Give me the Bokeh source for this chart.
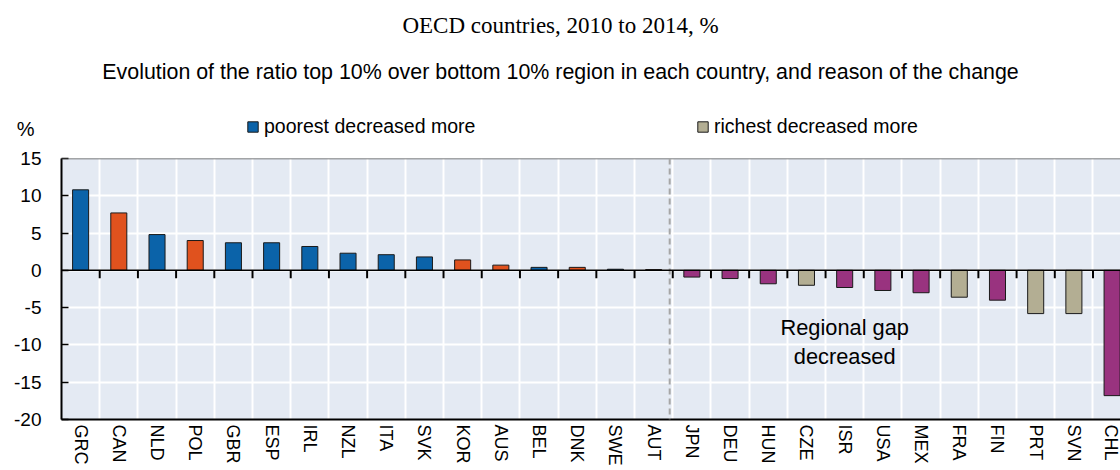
from bokeh.plotting import figure
from bokeh.layouts import column
from bokeh.models import (ColumnDataSource, Range1d, FixedTicker, Label, Span,
                          Legend, LegendItem, LinearAxis)
from bokeh.embed import file_html
from bokeh.resources import INLINE

# ---- data ----
countries = ["GRC", "CAN", "NLD", "POL", "GBR", "ESP", "IRL", "NZL", "ITA", "SVK",
             "KOR", "AUS", "BEL", "DNK", "SWE", "AUT", "JPN", "DEU", "HUN", "CZE",
             "ISR", "USA", "MEX", "FRA", "FIN", "PRT", "SVN", "CHL"]
values = [10.8, 7.7, 4.8, 4.0, 3.7, 3.7, 3.2, 2.3, 2.1, 1.8,
          1.4, 0.7, 0.4, 0.4, 0.15, 0.1, -0.9, -1.1, -1.8, -2.0,
          -2.3, -2.7, -3.0, -3.6, -4.0, -5.8, -5.8, -16.8]
reasons = ["poorest decreased more", "richest increased more", "poorest decreased more",
           "richest increased more", "poorest decreased more", "poorest decreased more",
           "poorest decreased more", "poorest decreased more", "poorest decreased more",
           "poorest decreased more", "richest increased more", "richest increased more",
           "poorest decreased more", "richest increased more", "poorest decreased more",
           "richest increased more", "poorest increased more", "poorest increased more",
           "poorest increased more", "richest decreased more", "poorest increased more",
           "poorest increased more", "poorest increased more", "richest decreased more",
           "poorest increased more", "richest decreased more", "richest decreased more",
           "poorest increased more"]
reason_colors = {
    "poorest decreased more": "#0B63A9",
    "richest increased more": "#E0521E",
    "richest decreased more": "#B3AE93",
    "poorest increased more": "#99337F",
}
legend_reasons = ["poorest decreased more", "richest decreased more"]
y_ticks = [-20, -15, -10, -5, 0, 5, 10, 15]
y_tick_labels = ["-20", "-15", "-10", "-5", "0", "5", "10", "15"]
title_text = "OECD countries, 2010 to 2014, %"
subtitle_text = ("Evolution of the ratio top 10% over bottom 10% region in each country, "
                 "and reason of the change")
note_text = "Regional gap\ndecreased"
unit_text = "%"

# ---- fonts / layout ----
W = 1120
LEFT = 61
HEAD_H = 144
SANS = "Liberation Sans"
OUTLINE = "#1A1A1A"

src = ColumnDataSource(dict(x=list(range(len(countries))), top=values, name=countries,
                            color=[reason_colors[r] for r in reasons]))

# ================= header figure (titles + legend) =================
head = figure(width=W, height=HEAD_H, output_backend="svg", toolbar_location=None,
              x_range=Range1d(LEFT, W), y_range=Range1d(HEAD_H, 0),
              min_border=0, min_border_left=LEFT, x_axis_type=None, y_axis_type=None)
head.outline_line_color = None
head.grid.visible = False
head.background_fill_color = "white"
head.border_fill_color = "white"

unit_y = 128
unit_axis = LinearAxis(ticker=FixedTicker(ticks=[unit_y]),
                       major_label_overrides={unit_y: unit_text},
                       axis_line_color=None, major_tick_line_color=None,
                       minor_tick_line_color=None, major_tick_in=0, major_tick_out=0,
                       major_label_standoff=LEFT - 34,
                       major_label_text_font=SANS, major_label_text_font_size="20px",
                       major_label_text_color="black")
head.add_layout(unit_axis, "left")

head.add_layout(Label(x=W / 2, y=25, text=title_text, text_align="center",
                      text_baseline="alphabetic", text_font="Liberation Serif",
                      text_font_size="23px", text_color="black"))
head.add_layout(Label(x=W / 2, y=71.5, text=subtitle_text, text_align="center",
                      text_baseline="alphabetic", text_font=SANS,
                      text_font_size="21.4px", text_color="black"))

proxy = head.vbar(x="x", top="top", width=0.42, source=src, fill_color="color",
                  line_color=OUTLINE, line_width=1, visible=False)
legend_x = [246, 696]
for r, lx in zip(legend_reasons, legend_x):
    lg = Legend(items=[LegendItem(label=r, renderers=[proxy], index=reasons.index(r))],
                location=(lx - LEFT, 5), orientation="horizontal",
                glyph_width=13, glyph_height=13, label_standoff=5, label_height=26,
                padding=0, margin=0, spacing=0,
                label_text_font=SANS, label_text_font_size="19.5px",
                label_text_color="black", label_text_baseline="middle",
                background_fill_alpha=0, border_line_alpha=0)
    head.add_layout(lg)

# ================= chart figure =================
idx = list(range(len(countries)))
bounds = [i + 0.5 for i in idx[:-1]]
split = countries.index("AUT") + 0.42

p = figure(width=W, height=324, output_backend="svg", toolbar_location=None,
           x_range=Range1d(-0.5, 27.22), y_range=Range1d(-20, 15),
           min_border_left=LEFT, min_border_right=0, min_border_top=14,
           min_border_bottom=46)
p.background_fill_color = "#E4EAF3"
p.border_fill_color = "white"
p.outline_line_color = None

# grid
p.xgrid.ticker = FixedTicker(ticks=bounds)
p.ygrid.ticker = FixedTicker(ticks=y_ticks)
p.xgrid.grid_line_color = "white"
p.ygrid.grid_line_color = "white"
p.xgrid.grid_line_width = 2
p.ygrid.grid_line_width = 2

# y axis
ya = p.yaxis[0]
ya.ticker = FixedTicker(ticks=y_ticks)
ya.major_label_overrides = {t: s for t, s in zip(y_ticks, y_tick_labels)}
ya.major_tick_in = 7
ya.major_tick_out = 0
ya.minor_tick_line_color = None
ya.axis_line_width = 2
ya.axis_line_color = "black"
ya.major_tick_line_color = "black"
ya.major_tick_line_width = 1.5
ya.major_label_text_font = SANS
ya.major_label_text_font_size = "19px"
ya.major_label_text_color = "black"
ya.major_label_standoff = 20

# x axis
xa = p.xaxis[0]
xa.ticker = FixedTicker(ticks=idx)
xa.major_label_overrides = {i: c for i, c in zip(idx, countries)}
xa.major_label_orientation = "vertical"
xa.major_tick_in = 0
xa.major_tick_out = 0
xa.minor_tick_line_color = None
xa.axis_line_width = 2
xa.axis_line_color = "black"
xa.major_label_text_font = SANS
xa.major_label_text_font_size = "18px"
xa.major_label_text_color = "black"
xa.major_label_standoff = 5

# top border
p.add_layout(Span(location=15, dimension="width", line_color="#555555", line_width=1.5))

# divider
p.add_layout(Span(location=split, dimension="height", line_color="#A6A6A6",
                  line_width=2, line_dash="6 4"))

# bars
p.vbar(x="x", top="top", bottom=0, width=0.42, source=src,
       fill_color="color", line_color=OUTLINE, line_width=1)

# zero line + ticks
p.add_layout(Span(location=0, dimension="width", line_color="black", line_width=1.5))
p.segment(x0=bounds, y0=[0] * len(bounds), x1=bounds, y1=[-1.06] * len(bounds),
          line_color="black", line_width=2)

# note
p.add_layout(Label(x=countries.index("ISR"), y=-9.6, text=note_text,
                   text_align="center", text_baseline="middle", text_font=SANS,
                   text_font_size="21.8px", text_color="black", text_line_height=1.16))

layout = column(head, p, spacing=0)
open("out.html", "w").write(file_html(layout, INLINE))
